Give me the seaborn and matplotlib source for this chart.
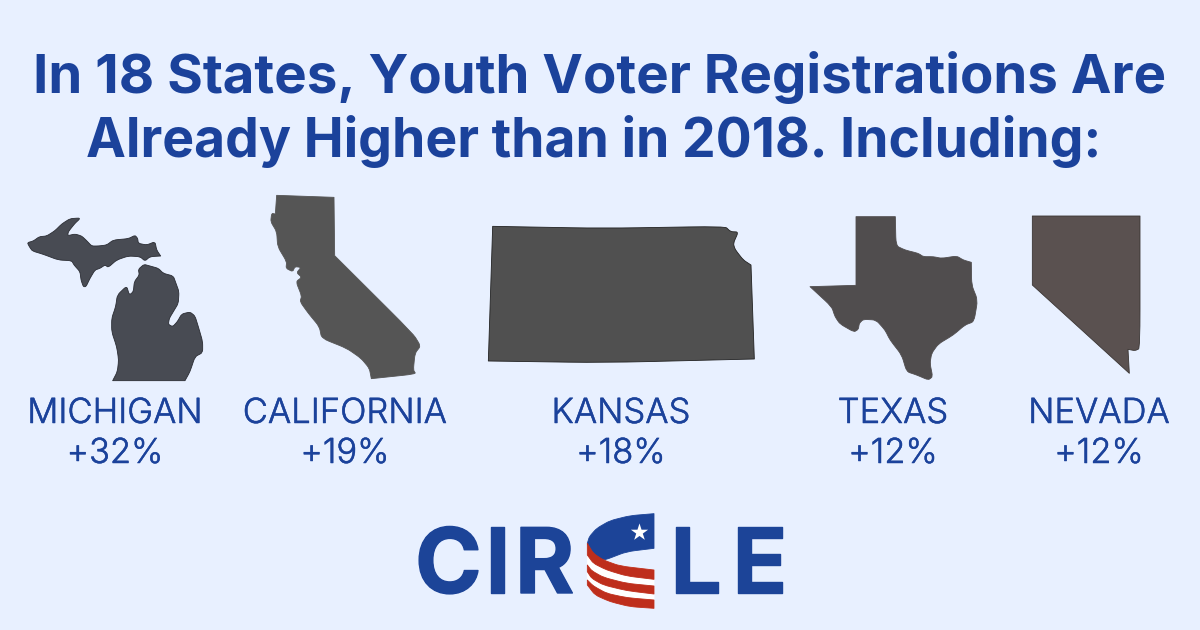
import matplotlib
matplotlib.use("Agg")
import matplotlib.pyplot as plt
import matplotlib.patheffects as pe
from matplotlib.path import Path
from matplotlib.patches import PathPatch
import seaborn as sns

# chart values
states = ["MICHIGAN", "CALIFORNIA", "KANSAS", "TEXAS", "NEVADA"]
increase = [32, 19, 18, 12, 12]
title_lines = ["In 18 States, Youth Voter Registrations Are", "Already Higher than in 2018. Including:"]

BG = "#E8F0FF"
BLUE = "#1B429B"
RED = "#BE2E1C"

sns.set_theme(style="white", rc={"figure.facecolor": BG, "axes.facecolor": BG})
plt.rcParams["font.family"] = ["Inter", "DejaVu Sans"]

# outlines, as (x, y) pixels of a 3x crop
# a point listed twice stays a hard corner
michigan_up = [(82,158),(100,153),(118,140),(140,138),(165,122),(185,102),(210,86),(238,84),(238,88),(225,100),(205,125),(203,137),(225,132),(245,138),(260,152),(275,168),(295,168),(320,165),(340,150),(385,146),(405,136),(413,145),(415,160),(440,165),(465,155),(470,180),(482,198),(482,198),(450,200),(435,213),(420,200),(385,198),(350,210),(325,232),(315,225),(300,235),(285,240),(270,265),(258,290),(250,290),(243,270),(240,245),(222,225),(215,212),(175,210),(130,193),(97,183),(88,170)]
michigan_low = [(338,572),(338,572),(352,545),(356,510),(350,470),(335,425),(335,385),(347,350),(352,315),(380,288),(388,315),(400,305),(403,275),(418,255),(415,238),(432,223),(450,228),(475,235),(490,250),(520,258),(528,280),(537,305),(535,340),(520,365),(508,385),(505,403),(518,410),(532,395),(545,372),(570,366),(585,378),(595,410),(608,455),(608,488),(585,500),(570,545),(555,572),(555,572)]
california = [(830,16),(830,16),(1002,22),(1002,22),(1004,197),(1004,197),(1240,432),(1262,468),(1245,490),(1240,540),(1248,552),(1114,566),(1114,566),(1108,535),(1083,505),(1040,475),(965,445),(958,410),(925,370),(900,335),(905,318),(888,275),(905,262),(890,248),(903,232),(885,230),(878,245),(858,235),(860,215),(833,170),(830,125),(812,95),(815,70),(826,72),(826,72)]
kansas = [(68,79),(68,79),(400,85),(765,79),(782,95),(805,96),(790,130),(795,148),(820,180),(843,195),(843,195),(853,477),(853,477),(400,488),(55,483),(55,483)]
texas = [(198,50),(198,50),(316,50),(316,50),(318,137),(345,150),(385,160),(400,170),(430,170),(455,175),(500,168),(520,180),(544,187),(544,187),(545,255),(563,300),(552,365),(525,375),(490,405),(445,432),(425,460),(420,490),(428,530),(415,540),(380,525),(350,515),(335,465),(300,420),(285,390),(258,360),(220,358),(208,370),(205,388),(192,396),(150,372),(135,350),(125,320),(60,260),(60,260),(198,256),(198,256)]
nevada = [(727,48),(727,48),(1050,48),(1050,48),(1050,445),(1035,452),(1014,448),(1014,448),(1018,520),(1018,520),(727,255),(727,255)]

# logo band
band_blue = [(762,41),(762,41),(690,47),(630,62),(590,85),(568,110),(562,130),(562,130),(575,155),(600,178),(615,180),(680,155),(762,145),(762,145)]
band_white = [(562,130),(562,130),(580,160),(610,180),(660,198),(762,210),(762,210),(762,325),(762,325),(690,320),(630,305),(585,285),(562,255),(562,255)]
band_red = [
    [(562,130),(562,130),(580,160),(610,180),(660,198),(762,210),(762,210),(762,238),(762,238),(680,228),(620,210),(580,190),(562,165),(562,165)],
    [(562,195),(562,195),(575,212),(610,232),(680,250),(762,258),(762,258),(762,282),(762,282),(680,272),(610,255),(575,235),(562,215),(562,215)],
    [(562,240),(562,240),(580,258),(620,280),(680,293),(762,300),(762,300),(762,325),(762,325),(690,320),(630,305),(585,285),(562,255),(562,255)],
]
logo_letters = ["C", "I", "R", "L", "E"]
logo_x = [415, 485, 515, 670, 732]


def crop_shape(ax, pts, x0, y0, color, edge=None):
    # straight runs with small rounded corners, so the traced points stay true
    p = [(x0 + a / 3, y0 + b / 3) for a, b in pts]
    n = len(p)
    lerp = lambda a, b, t: (a[0] + (b[0] - a[0]) * t, a[1] + (b[1] - a[1]) * t)
    verts = [lerp(p[-1], p[0], 0.7)]
    codes = [Path.MOVETO]
    for i in range(n):
        verts += [p[i], lerp(p[i], p[(i + 1) % n], 0.3), lerp(p[i], p[(i + 1) % n], 0.7)]
        codes += [Path.CURVE3, Path.CURVE3, Path.LINETO]
    ax.add_patch(PathPatch(Path(verts, codes), facecolor=color, edgecolor=edge or color, linewidth=0.6, joinstyle="round"))


fig, ax = plt.subplots(figsize=(12, 6.3), dpi=100)
fig.subplots_adjust(0, 0, 1, 1)

ax.text(600, 93, title_lines[0], ha="center", va="baseline", fontsize=39.3, fontweight="bold", color=BLUE)
ax.text(594, 157, title_lines[1], ha="center", va="baseline", fontsize=38.5, fontweight="bold", color=BLUE)

crop_shape(ax, michigan_up, 0, 190, "#484B53", "#2A2C33")
crop_shape(ax, michigan_low, 0, 190, "#484B53", "#2A2C33")
crop_shape(ax, california, 0, 190, "#555555")
crop_shape(ax, kansas, 470, 200, "#505050", "#222222")
crop_shape(ax, texas, 790, 200, "#504D4E")
crop_shape(ax, nevada, 790, 200, "#5A5150", "#3A3533")

label_fx = [pe.withStroke(linewidth=0.35, foreground=BLUE)]
for name, val, cx in zip(states, increase, [115, 345, 621, 893, 1099]):
    ax.text(cx, 423, name, ha="center", va="baseline", fontsize=24.9, fontweight=300, color=BLUE, path_effects=label_fx)
    ax.text(cx, 463, f"+{val}%", ha="center", va="baseline", fontsize=24.8, fontweight=300, color=BLUE, path_effects=label_fx)

# logo
for letter, x in zip(logo_letters, logo_x):
    ax.text(x, 593, letter, ha="left", va="baseline", fontsize=65, fontweight="bold", color="#1C4498",
            path_effects=[pe.withStroke(linewidth=1, foreground="#1C4498")])
crop_shape(ax, band_white, 400, 500, "white")
crop_shape(ax, band_blue, 400, 500, "#1C4498")
for stripe in band_red:
    crop_shape(ax, stripe, 400, 500, RED)
sns.scatterplot(x=[639], y=[532], marker="*", s=170, color="white", linewidth=0, ax=ax, legend=False, zorder=5)

ax.set_xlim(0, 1200)
ax.set_ylim(630, 0)
ax.axis("off")
fig.savefig("out.png", dpi=100, facecolor=BG)
